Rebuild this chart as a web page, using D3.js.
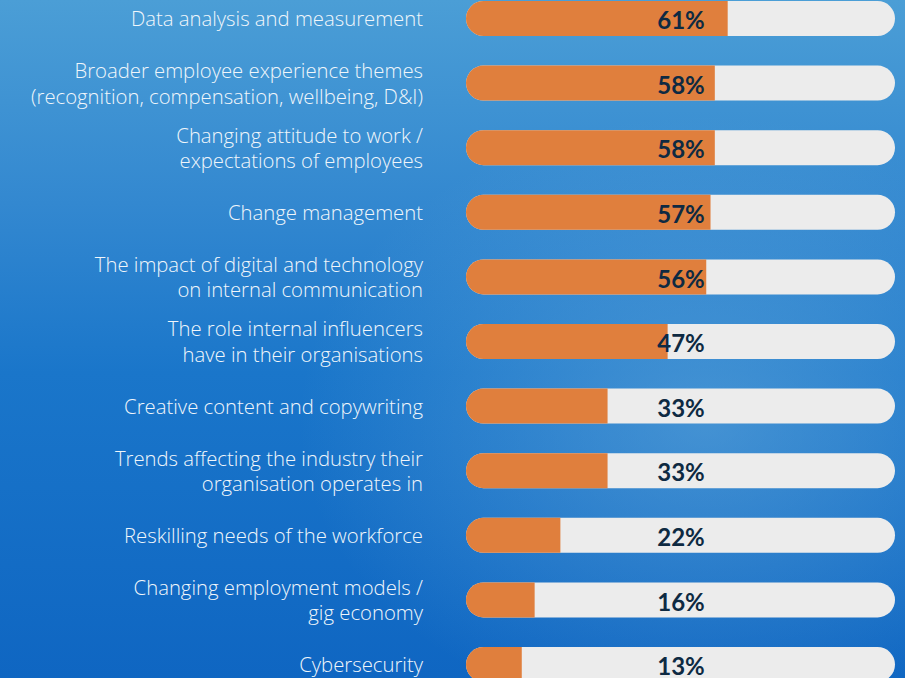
<!DOCTYPE html>
<html>
<head>
<meta charset="utf-8">
<script src="https://cdn.jsdelivr.net/npm/d3@7"></script>
<style>
  html, body { margin: 0; padding: 0; background: #1a74c8; }
  svg { display: block; }
</style>
</head>
<body>
<svg id="chart" width="905" height="678"></svg>
<script>
// Topic labels (one entry per bar, lines split with "|")
const topics = [
    "Data analysis and measurement",
    "Broader employee experience themes|(recognition, compensation, wellbeing, D&I)",
    "Changing attitude to work /|expectations of employees",
    "Change management",
    "The impact of digital and technology|on internal communication",
    "The role internal influencers|have in their organisations",
    "Creative content and copywriting",
    "Trends affecting the industry their|organisation operates in",
    "Reskilling needs of the workforce",
    "Changing employment models /|gig economy",
    "Cybersecurity"
];
const shares = [61, 58, 58, 57, 56, 47, 33, 33, 22, 16, 13];

const svg = d3.select("#chart");
const W = +svg.attr("width");
const H = +svg.attr("height");

// background gradient
const defs = svg.append("defs");
const lg = defs.append("linearGradient")
    .attr("id", "bg").attr("x1", 0).attr("y1", 0).attr("x2", 0).attr("y2", 1);
lg.append("stop").attr("offset", "0%").attr("stop-color", "#4b9ed6");
lg.append("stop").attr("offset", "30%").attr("stop-color", "#3388d0");
lg.append("stop").attr("offset", "55%").attr("stop-color", "#1a76ca");
lg.append("stop").attr("offset", "100%").attr("stop-color", "#0f66c2");

const rg = defs.append("radialGradient")
    .attr("id", "glow").attr("cx", 0.78).attr("cy", 0.62).attr("r", 0.45);
rg.append("stop").attr("offset", "0%").attr("stop-color", "#7ab8e0").attr("stop-opacity", 0.45);
rg.append("stop").attr("offset", "100%").attr("stop-color", "#7ab8e0").attr("stop-opacity", 0);

svg.append("rect").attr("width", W).attr("height", H).attr("fill", "url(#bg)");
svg.append("rect").attr("width", W).attr("height", H).attr("fill", "url(#glow)");

// scales: 64.6px step, 35px bars, last bar runs off the bottom edge
const step = 64.6, barH = 35;
const x = d3.scaleLinear().domain([0, 100]).range([466, 895]);
const y = d3.scaleBand()
    .domain(topics)
    .range([1, 1 + step * (topics.length - 1) + barH])
    .paddingInner((step - barH) / step)
    .paddingOuter(0);

const data = topics.map((t, i) => ({ topic: t, value: shares[i] }));
const bh = y.bandwidth();
const r = bh / 2;

const rows = svg.append("g").selectAll("g")
    .data(data)
    .join("g")
    .attr("transform", d => `translate(0, ${y(d.topic)})`);

// grey track
rows.append("rect")
    .attr("x", x(0))
    .attr("width", x(100) - x(0))
    .attr("height", bh)
    .attr("rx", r)
    .attr("fill", "#ececec");

// orange fill: rounded left, square right
rows.append("path")
    .attr("fill", "#e07f3d")
    .attr("d", d => {
        const x0 = x(0), x1 = x(d.value);
        return `M${x0 + r},0 H${x1} V${bh} H${x0 + r} A${r},${r} 0 0 1 ${x0 + r},0 Z`;
    });

// percentage labels
rows.append("text")
    .attr("x", 681)
    .attr("y", bh / 2)
    .attr("dy", "0.45em")
    .attr("text-anchor", "middle")
    .attr("font-family", "Lato, 'Open Sans', sans-serif")
    .attr("font-weight", 700)
    .attr("font-size", 24)
    .attr("fill", "#0e2a42")
    .text(d => d.value + "%");

// topic labels
const lineH = 25.5;
rows.append("text")
    .attr("text-anchor", "end")
    .attr("font-family", "'Open Sans', sans-serif")
    .attr("font-weight", 300)
    .attr("font-size", 20.3)
    .attr("fill", "#f0f6fb")
    .each(function (d) {
        const lines = d.topic.split("|");
        const t = d3.select(this);
        lines.forEach((ln, j) => {
            t.append("tspan")
                .attr("x", 423)
                .attr("y", bh / 2 + (j - (lines.length - 1) / 2) * lineH)
                .attr("dy", "0.38em")
                .text(ln);
        });
    });
</script>
</body>
</html>
